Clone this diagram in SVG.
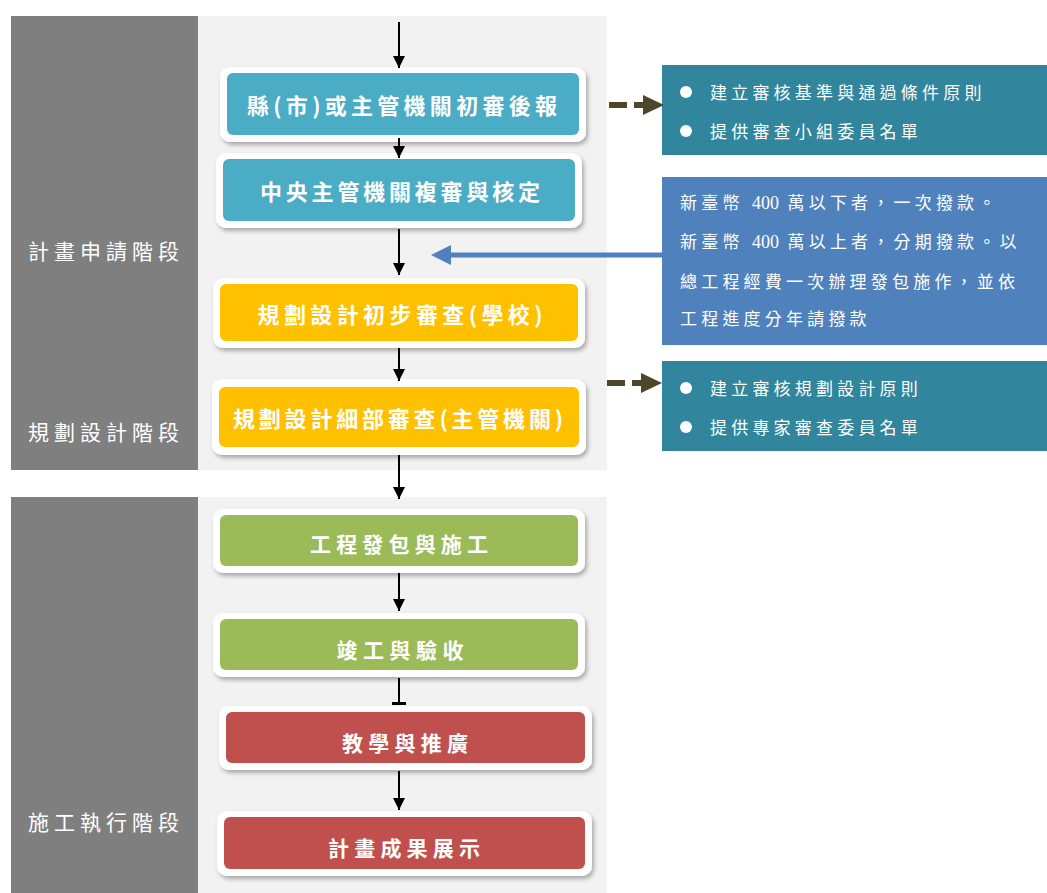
<svg xmlns="http://www.w3.org/2000/svg" width="1047" height="893" viewBox="0 0 1047 893">
<style>
.dark{fill:#7F7F7F}
.light{fill:#F2F2F2}
.frame{fill:#FFFFFF;filter:url(#sh)}
.lbl{font-family:"Noto Sans CJK TC",sans-serif;font-size:21px;fill:#FFFFFF;letter-spacing:5px}
.bt{font-family:"Noto Sans CJK TC",sans-serif;font-size:22px;font-weight:700;fill:#FFFFFF;text-anchor:middle;dominant-baseline:central}
.rt{font-family:"Liberation Serif","Noto Sans CJK TC",serif;font-size:17px;fill:#FFFFFF;letter-spacing:4.2px;dominant-baseline:central}
.num{letter-spacing:0px;font-size:18px}
.blk{stroke:#000000;stroke-width:2;fill:none;marker-end:url(#ah)}
.dash{stroke:#4D4628;stroke-width:6;fill:none;stroke-dasharray:18 7}
</style>
<defs>
<filter id="sh" x="-10%" y="-30%" width="120%" height="160%">
<feDropShadow dx="2" dy="3" stdDeviation="2" flood-color="#000000" flood-opacity="0.3"/>
</filter>
<marker id="ah" markerWidth="6" markerHeight="6" refX="6" refY="3" orient="auto" markerUnits="strokeWidth">
<path d="M0,0 L6,3 L0,6 Z" fill="#000000"/>
</marker>
</defs>

<g id="panels">
<rect class="dark" x="11" y="16" width="187" height="454"/>
<rect class="light" x="198" y="16" width="409" height="454"/>
<rect class="dark" x="11" y="497" width="187" height="396"/>
<rect class="light" x="198" y="497" width="409" height="396"/>
<text class="lbl" x="28" y="259">計畫申請階段</text>
<text class="lbl" x="28" y="440">規劃設計階段</text>
<text class="lbl" x="28" y="830">施工執行階段</text>
</g>

<g id="n1">
<rect class="frame" x="220" y="67" width="366" height="75" rx="10"/>
<rect x="227" y="73" width="352" height="62" rx="6" fill="#4BACC6"/>
<text class="bt" x="402" y="104" textLength="310" lengthAdjust="spacing">縣(市)或主管機關初審後報</text>
</g>
<g id="n2">
<rect class="frame" x="216" y="153" width="366" height="75" rx="10"/>
<rect x="223" y="159" width="352" height="62" rx="6" fill="#4BACC6"/>
<text class="bt" x="400" y="190" textLength="280" lengthAdjust="spacing">中央主管機關複審與核定</text>
</g>
<g id="n3">
<rect class="frame" x="213" y="278" width="372" height="70" rx="10"/>
<rect x="220" y="284" width="358" height="57" rx="6" fill="#FFC000"/>
<text class="bt" x="400" y="313" textLength="285" lengthAdjust="spacing">規劃設計初步審查(學校)</text>
</g>
<g id="n4">
<rect class="frame" x="212" y="379" width="374" height="76" rx="10"/>
<rect x="219" y="387" width="360" height="60" rx="6" fill="#FFC000"/>
<text class="bt" x="398" y="417" textLength="330" lengthAdjust="spacing">規劃設計細部審查(主管機關)</text>
</g>
<g id="n5">
<rect class="frame" x="213" y="509" width="372" height="64" rx="10"/>
<rect x="220" y="515" width="358" height="51" rx="6" fill="#9BBB59"/>
<text class="bt" x="399" y="543" style="font-size:21px" textLength="178" lengthAdjust="spacing">工程發包與施工</text>
</g>
<g id="n6">
<rect class="frame" x="213" y="613" width="372" height="64" rx="10"/>
<rect x="220" y="619" width="358" height="51" rx="6" fill="#9BBB59"/>
<text class="bt" x="400" y="649" style="font-size:21px" textLength="127" lengthAdjust="spacing">竣工與驗收</text>
</g>
<g id="n7">
<rect class="frame" x="219" y="706" width="373" height="64" rx="10"/>
<rect x="226" y="712" width="359" height="51" rx="6" fill="#C0504D"/>
<text class="bt" x="405" y="742" style="font-size:21px" textLength="126" lengthAdjust="spacing">教學與推廣</text>
</g>
<g id="n8">
<rect class="frame" x="217" y="811" width="375" height="65" rx="10"/>
<rect x="224" y="817" width="361" height="52" rx="6" fill="#C0504D"/>
<text class="bt" x="404" y="847" style="font-size:21px" textLength="152" lengthAdjust="spacing">計畫成果展示</text>
</g>

<g id="r1">
<rect x="662" y="65" width="385" height="90" fill="#31859C"/>
<circle cx="686" cy="92" r="6" fill="#FFFFFF"/>
<circle cx="686" cy="131" r="6" fill="#FFFFFF"/>
<text class="rt" x="710" y="93">建立審核基準與通過條件原則</text>
<text class="rt" x="710" y="132">提供審查小組委員名單</text>
</g>
<g id="r2">
<rect x="662" y="177" width="385" height="168" fill="#4F81BD"/>
<text class="rt" x="680" y="203">新臺幣 <tspan class="num">400</tspan> 萬以下者，一次撥款。</text>
<text class="rt" x="680" y="242">新臺幣 <tspan class="num">400</tspan> 萬以上者，分期撥款。以</text>
<text class="rt" x="680" y="282">總工程經費一次辦理發包施作，並依</text>
<text class="rt" x="680" y="319">工程進度分年請撥款</text>
</g>
<g id="r3">
<rect x="662" y="361" width="385" height="90" fill="#31859C"/>
<circle cx="686" cy="388" r="6" fill="#FFFFFF"/>
<circle cx="686" cy="427" r="6" fill="#FFFFFF"/>
<text class="rt" x="710" y="389">建立審核規劃設計原則</text>
<text class="rt" x="710" y="428">提供專家審查委員名單</text>
</g>

<g id="connectors">
<line class="blk" x1="399" y1="22" x2="399" y2="68"/>
<line class="blk" x1="399" y1="138" x2="399" y2="158"/>
<line class="blk" x1="399" y1="229" x2="399" y2="275"/>
<line class="blk" x1="399" y1="348" x2="399" y2="381"/>
<line class="blk" x1="399" y1="455" x2="399" y2="499"/>
<line class="blk" x1="399" y1="573" x2="399" y2="611"/>
<line x1="399" y1="678" x2="399" y2="703" stroke="#000000" stroke-width="2"/>
<rect x="392" y="702" width="14" height="3" fill="#000000"/>
<line class="blk" x1="399" y1="771" x2="399" y2="810"/>
<line class="dash" x1="609" y1="105" x2="645" y2="105"/>
<path d="M643,95 L664,105 L643,115 Z" fill="#4D4628"/>
<line class="dash" x1="607" y1="383" x2="643" y2="383"/>
<path d="M641,373 L662,383 L641,393 Z" fill="#4D4628"/>
<line x1="662" y1="255" x2="448" y2="255" stroke="#4F81BD" stroke-width="5"/>
<path d="M451,245 L431,255 L451,265 Z" fill="#4F81BD"/>
</g>
</svg>
